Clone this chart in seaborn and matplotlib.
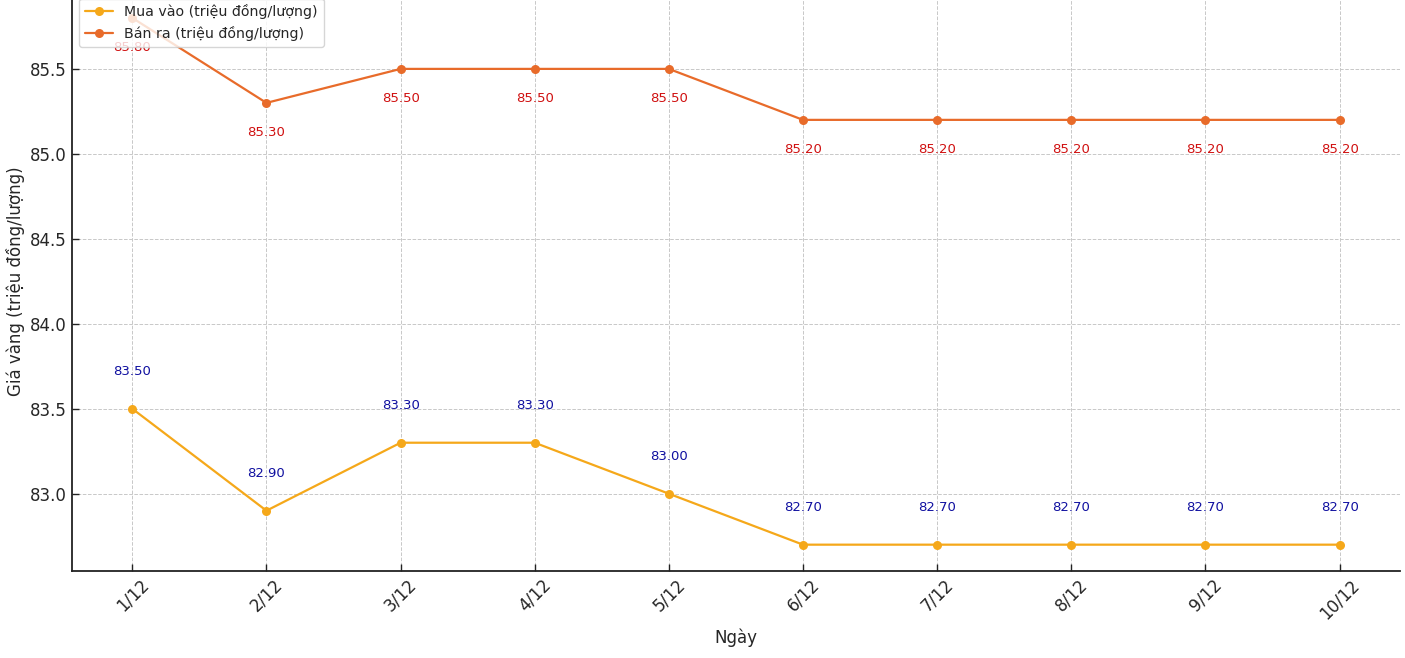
import pandas as pd
import matplotlib
matplotlib.use("Agg")
import matplotlib.pyplot as plt
import seaborn as sns

# data
days = ["1/12", "2/12", "3/12", "4/12", "5/12", "6/12", "7/12", "8/12", "9/12", "10/12"]
buy = [83.50, 82.90, 83.30, 83.30, 83.00, 82.70, 82.70, 82.70, 82.70, 82.70]
sell = [85.80, 85.30, 85.50, 85.50, 85.50, 85.20, 85.20, 85.20, 85.20, 85.20]

buy_label = "Mua vào (triệu đồng/lượng)"
sell_label = "Bán ra (triệu đồng/lượng)"

df = pd.DataFrame({"day": days, "buy": buy, "sell": sell})

sns.set_style("whitegrid")
plt.rcParams["font.family"] = ["DejaVu Sans"]

fig = plt.figure(figsize=(14.05, 6.58), dpi=100)
# top of the axes sits a little above the canvas (reference is cropped)
ax = fig.add_axes([0.0512, 0.1322, 0.9452, 0.8806])

sns.lineplot(data=df, x="day", y="buy", marker="o", color="#f5a81a",
             linewidth=1.6, markersize=6.5, markeredgewidth=0, label=buy_label, ax=ax)
sns.lineplot(data=df, x="day", y="sell", marker="o", color="#e86b2a",
             linewidth=1.6, markersize=6.5, markeredgewidth=0, label=sell_label, ax=ax)

for i, v in enumerate(buy):
    ax.annotate(f"{v:.2f}", (i, v), textcoords="offset points", xytext=(0, 27),
                ha="center", va="center", fontsize=9.5, color="#1010a0")
for i, v in enumerate(sell):
    ax.annotate(f"{v:.2f}", (i, v), textcoords="offset points", xytext=(0, -21),
                ha="center", va="center", fontsize=9.5, color="#d01010")

ax.set_xlabel("Ngày", fontsize=12)
ax.set_ylabel("Giá vàng (triệu đồng/lượng)", fontsize=12)
ax.tick_params(axis="both", direction="in", length=5, width=1, labelsize=12,
               left=True, bottom=True, color="#222222")
plt.setp(ax.get_xticklabels(), rotation=45)

ax.grid(True, linestyle="--", color="#c8c8c8", linewidth=0.7)
for s in ["top", "right"]:
    ax.spines[s].set_visible(False)
for s in ["left", "bottom"]:
    ax.spines[s].set_color("#222222")
    ax.spines[s].set_linewidth(1.3)

ax.legend(loc="upper left", fontsize=10.2, frameon=True)

fig.savefig("out.png", dpi=100)
